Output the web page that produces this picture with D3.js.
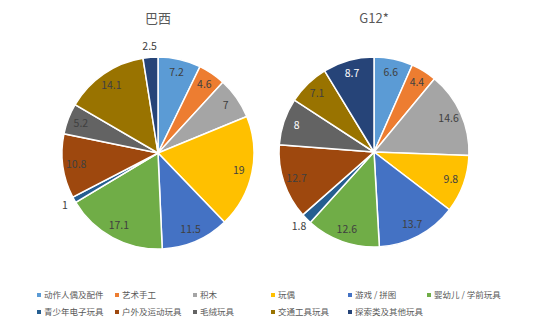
<!DOCTYPE html>
<html>
<head>
<meta charset="utf-8">
<script src="https://cdn.jsdelivr.net/npm/d3@7"></script>
<style>
body { margin: 0; background: #fff; }
svg { font-family: "Noto Sans CJK SC", "DejaVu Sans", sans-serif; }
</style>
</head>
<body>
<svg id="chart" width="554" height="320"></svg>
<script>
const categories = ["动作人偶及配件", "艺术手工", "积木", "玩偶", "游戏 / 拼图", "婴幼儿 / 学前玩具",
	"青少年电子玩具", "户外及运动玩具", "毛绒玩具", "交通工具玩具", "探索类及其他玩具"];
const brazilValues = [7.2, 4.6, 7, 19, 11.5, 17.1, 1, 10.8, 5.2, 14.1, 2.5];
const g12Values = [6.6, 4.4, 14.6, 9.8, 13.7, 12.6, 1.8, 12.7, 8, 7.1, 8.7];
const titles = ["巴西", "G12*"];
const colors = ["#5B9BD5", "#ED7D31", "#A5A5A5", "#FFC000", "#4472C4", "#70AD47",
	"#255E91", "#9E480E", "#636363", "#997300", "#264478"];

const svg = d3.select("#chart");

const pie = d3.pie().sort(null).value(d => d.value);

function drawPie(values, title, cx, cy, r, whiteLabels) {
	const data = values.map((v, i) => ({ cat: categories[i], value: v }));
	const g = svg.append("g").attr("transform", `translate(${cx},${cy})`);

	const arc = d3.arc().innerRadius(0).outerRadius(r);
	const labelArc = d3.arc().innerRadius(r * 0.86).outerRadius(r * 0.86);
	const outerArc = d3.arc().innerRadius(r * 1.11).outerRadius(r * 1.11);

	const arcs = pie(data);

	g.selectAll("path")
		.data(arcs)
		.enter()
		.append("path")
		.attr("d", arc)
		.attr("fill", d => colors[categories.indexOf(d.data.cat)])
		.attr("stroke", "#fff")
		.attr("stroke-width", 1.5);

	// small slices get their label outside the pie
	g.selectAll(".lbl")
		.data(arcs)
		.enter()
		.append("text")
		.attr("class", "lbl")
		.attr("transform", d => {
			const p = d.data.value < 3 ? outerArc.centroid(d) : labelArc.centroid(d);
			return `translate(${p})`;
		})
		.attr("text-anchor", "middle")
		.attr("dy", "0.35em")
		.style("font-size", "10.5px")
		.style("fill", d => whiteLabels.includes(d.data.cat) ? "#fff" : "#404040")
		.text(d => d.data.value);

	svg.append("text")
		.attr("x", cx)
		.attr("y", 23)
		.attr("text-anchor", "middle")
		.style("font-size", "13px")
		.style("fill", "#595959")
		.text(title);
}

drawPie(brazilValues, titles[0], 158, 153, 96, []);
drawPie(g12Values, titles[1], 374, 152, 95, ["毛绒玩具", "探索类及其他玩具"]);

// legend
const legendX = [39, 117, 195, 273, 350, 429];
const legendY = [295, 312];
const legend = svg.append("g");
categories.forEach((c, i) => {
	const x = legendX[i % 6];
	const y = legendY[Math.floor(i / 6)];
	legend.append("rect")
		.attr("x", x - 2).attr("y", y - 2)
		.attr("width", 4).attr("height", 4)
		.attr("fill", colors[i]);
	legend.append("text")
		.attr("x", x + 5)
		.attr("y", y)
		.attr("dy", "0.35em")
		.style("font-size", "8.5px")
		.style("fill", "#595959")
		.text(c);
});
</script>
</body>
</html>
